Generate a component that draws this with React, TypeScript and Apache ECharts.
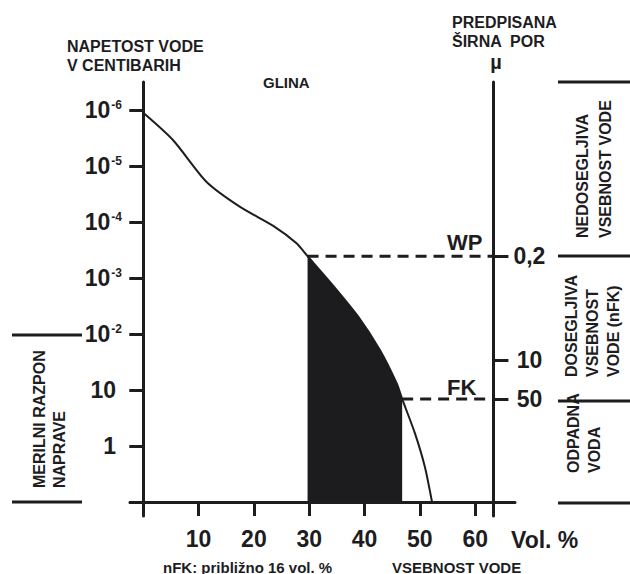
import React, { useEffect, useRef } from "react";
import * as echarts from "echarts";

// Retention curve (Vol. % vs. tension level index on the left axis)
const curveVol = [0, 5.4, 11.4, 17.5, 23.5, 27.7, 29.7, 34.0, 38.85, 42.8, 45.8, 46.8, 49.1, 50.9, 52.2];
const curveLevel = [6.95, 6.46, 5.72, 5.27, 4.93, 4.62, 4.39, 3.9, 3.31, 2.71, 2.12, 1.84, 1.23, 0.63, 0];

const wpVol = 29.7;
const fkVol = 46.8;
const wpLevel = 4.39;
const fkLevel = 1.84;

const tensionTicks = [1, 2, 3, 4, 5, 6, 7];
const tensionBase = ["1", "10", "10", "10", "10", "10", "10"];
const tensionExp = ["", "", "-2", "-3", "-4", "-5", "-6"];

const volTicks = [10, 20, 30, 40, 50, 60];

const poreTicks = [4.39, 2.54, 1.84];
const poreLabels = ["0,2", "10", "50"];

const markerNames = ["WP", "FK"];
const markerLevels = [wpLevel, fkLevel];
const markerLabelVol = 54.9;

const xMin = -2.4;
const xMax = 67.2;
const yMin = -0.25;
const yMax = 7.5;
const rightAxisVol = 63.3;

const GRID = { left: 130, right: 115, top: 82, bottom: 58 };
const W = 630;
const H = 574;

const INK = "#1d1d1f";
const SANS = "'Liberation Sans', Arial, Helvetica, sans-serif";
const NARROW = "'Liberation Sans Narrow', 'Arial Narrow', 'Liberation Sans', sans-serif";

export default function App() {
  const ref = useRef<HTMLDivElement>(null);

  useEffect(() => {
    document.body.style.margin = "0";
    if (!ref.current) return;
    const chart = echarts.init(ref.current, undefined, { renderer: "svg" });

    const curve = curveVol.map((v, i) => [v, curveLevel[i]]);
    const fill = curve.filter((p) => p[0] >= wpVol - 1e-6 && p[0] <= fkVol + 1e-6);

    const gridW = W - GRID.left - GRID.right;
    const pxPerVol = gridW / (xMax - xMin);
    const rightOffset = -(xMax - rightAxisVol) * pxPerVol;

    const tickLine = { color: INK, width: 3 };

    const graphics: any[] = [
      // titles
      { type: "text", x: 67, y: 46, style: { text: "NAPETOST VODE", font: `bold 16px ${SANS}`, fill: INK, verticalAlign: "middle" } },
      { type: "text", x: 67, y: 65.5, style: { text: "V CENTIBARIH", font: `bold 16px ${SANS}`, fill: INK, verticalAlign: "middle" } },
      { type: "text", x: 263, y: 82.5, style: { text: "GLINA", font: `bold 15px ${SANS}`, fill: INK, verticalAlign: "middle" } },
      { type: "text", x: 452, y: 22.5, style: { text: "PREDPISANA", font: `bold 16px ${SANS}`, fill: INK, verticalAlign: "middle" } },
      { type: "text", x: 452, y: 41, style: { text: "ŠIRNA  POR", font: `bold 16px ${SANS}`, fill: INK, verticalAlign: "middle" } },
      { type: "text", x: 496, y: 61.5, style: { text: "µ", font: `bold 20px ${SANS}`, fill: INK, align: "center", verticalAlign: "middle" } },
      { type: "text", x: 511, y: 540, style: { text: "Vol. %", font: `bold 23px ${NARROW}`, fill: INK, verticalAlign: "middle" } },
      { type: "text", x: 163, y: 567, style: { text: "nFK: približno 16 vol. %", font: `bold 15px ${SANS}`, fill: INK, verticalAlign: "middle" } },
      { type: "text", x: 392, y: 567, style: { text: "VSEBNOST VODE", font: `bold 15px ${SANS}`, fill: INK, verticalAlign: "middle" } },
      // right column
      { type: "line", shape: { x1: 558, y1: 82, x2: 630, y2: 82 }, style: { stroke: INK, lineWidth: 3 } },
      { type: "line", shape: { x1: 558, y1: 256, x2: 630, y2: 256 }, style: { stroke: INK, lineWidth: 3 } },
      { type: "line", shape: { x1: 558, y1: 401, x2: 630, y2: 401 }, style: { stroke: INK, lineWidth: 3 } },
      { type: "line", shape: { x1: 558, y1: 503, x2: 630, y2: 503 }, style: { stroke: INK, lineWidth: 3 } },
      {
        type: "text", x: 594, y: 238, rotation: Math.PI / 2,
        style: { text: "NEDOSEGLJIVA\nVSEBNOST VODE", font: `bold 16px ${SANS}`, lineHeight: 23, fill: INK, align: "left", verticalAlign: "middle" },
      },
      {
        type: "text", x: 592, y: 377, rotation: Math.PI / 2,
        style: { text: "DOSEGLJIVA\nVSEBNOST\nVODE (nFK)", font: `bold 16px ${SANS}`, lineHeight: 21, fill: INK, align: "left", verticalAlign: "middle" },
      },
      {
        type: "text", x: 583.5, y: 473, rotation: Math.PI / 2,
        style: { text: "ODPADNA\nVODA", font: `bold 16px ${SANS}`, lineHeight: 21, fill: INK, align: "left", verticalAlign: "middle" },
      },
      // left bracket
      { type: "line", shape: { x1: 12, y1: 335, x2: 82, y2: 335 }, style: { stroke: INK, lineWidth: 3 } },
      { type: "line", shape: { x1: 12, y1: 502, x2: 82, y2: 502 }, style: { stroke: INK, lineWidth: 3 } },
      {
        type: "text", x: 49, y: 488, rotation: Math.PI / 2,
        style: { text: "MERILNI RAZPON\nNAPRAVE", font: `bold 16px ${SANS}`, lineHeight: 20, fill: INK, align: "left", verticalAlign: "middle" },
      },
    ];

    const option: any = {
      animation: false,
      grid: { ...GRID, containLabel: false, outerBoundsMode: "none" },
      xAxis: {
        type: "value",
        min: xMin,
        max: xMax,
        axisLine: { show: true, onZero: true, onZeroAxisIndex: 0, lineStyle: { color: INK, width: 3 } },
        axisTick: { show: true, customValues: volTicks, length: 14, lineStyle: tickLine },
        axisLabel: {
          customValues: volTicks,
          margin: 11,
          color: INK,
          fontFamily: NARROW,
          fontWeight: "bold",
          fontSize: 23,
        },
        splitLine: { show: false },
      },
      yAxis: [
        {
          type: "value",
          position: "left",
          min: yMin,
          max: yMax,
          axisLine: { show: true, onZero: true, lineStyle: { color: INK, width: 3 } },
          axisTick: { show: true, customValues: [0, ...tensionTicks], length: 14, lineStyle: tickLine },
          axisLabel: {
            customValues: tensionTicks,
            margin: 8,
            formatter: (v: number) => {
              const i = tensionTicks.indexOf(Math.round(v));
              if (i < 0) return "";
              return tensionExp[i]
                ? `{b|${tensionBase[i]}}{s|${tensionExp[i]}}`
                : `{b|${tensionBase[i]}}{p|}`;
            },
            rich: {
              b: { fontFamily: NARROW, fontWeight: "bold", fontSize: 23, color: INK },
              s: { fontFamily: NARROW, fontWeight: "bold", fontSize: 12, color: INK, verticalAlign: "top", padding: [0, 0, 0, 1] },
              p: { width: 6 },
            },
          },
          splitLine: { show: false },
        },
        {
          type: "value",
          position: "right",
          offset: rightOffset,
          min: yMin,
          max: yMax,
          axisLine: { show: true, onZero: false, lineStyle: { color: INK, width: 3 } },
          axisTick: { show: true, customValues: poreTicks, length: 15, lineStyle: tickLine },
          axisLabel: {
            customValues: poreTicks,
            margin: 36,
            align: "center",
            color: INK,
            fontFamily: NARROW,
            fontWeight: "bold",
            fontSize: 23,
            formatter: (v: number) => {
              const i = poreTicks.findIndex((t) => Math.abs(t - v) < 1e-6);
              return i < 0 ? "" : poreLabels[i];
            },
          },
          splitLine: { show: false },
        },
      ],
      series: [
        {
          name: "nFK",
          type: "line",
          data: fill,
          smooth: 0.25,
          symbol: "none",
          lineStyle: { width: 0 },
          areaStyle: { color: "#1c1b1d", opacity: 1 },
          z: 2,
        },
        {
          name: "curve",
          type: "line",
          data: curve,
          smooth: 0.25,
          symbol: "none",
          lineStyle: { color: INK, width: 2 },
          z: 3,
        },
        {
          name: "WP",
          type: "line",
          data: [
            [wpVol, wpLevel],
            [rightAxisVol, wpLevel],
          ],
          symbol: "none",
          lineStyle: { color: INK, width: 3, type: [11, 7] },
          z: 3,
        },
        {
          name: "FK",
          type: "line",
          data: [
            [fkVol, fkLevel],
            [rightAxisVol, fkLevel],
          ],
          symbol: "none",
          lineStyle: { color: INK, width: 3, type: [11, 7] },
          z: 3,
        },
      ],
      graphic: graphics,
    };

    chart.setOption(option);

    // WP / FK labels placed through the chart's own scales
    const offsets = [13.5, 11];
    const markerTexts = markerNames.map((name, i) => {
      const p = chart.convertToPixel({ gridIndex: 0 }, [markerLabelVol, markerLevels[i]]) as number[];
      return {
        type: "text",
        x: p[0],
        y: p[1] - offsets[i],
        style: { text: name, font: `bold 22px ${NARROW}`, fill: INK, verticalAlign: "middle" },
        z: 10,
      };
    });
    chart.setOption({ graphic: [...graphics, ...markerTexts] });

    return () => chart.dispose();
  }, []);

  return <div ref={ref} style={{ width: W, height: H }} />;
}
